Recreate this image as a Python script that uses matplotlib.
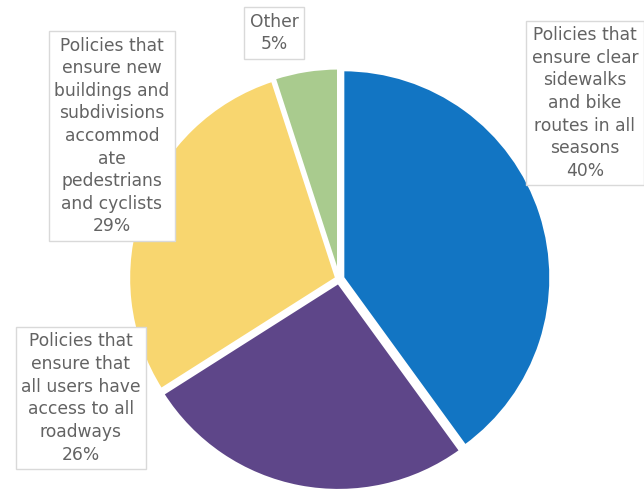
import matplotlib
matplotlib.use("Agg")
import matplotlib.pyplot as plt

# Survey shares for preferred active-transportation policies
categories = [
    "Policies that\nensure clear\nsidewalks\nand bike\nroutes in all\nseasons",
    "Policies that\nensure that\nall users have\naccess to all\nroadways",
    "Policies that\nensure new\nbuildings and\nsubdivisions\naccommod\nate\npedestrians\nand cyclists",
    "Other",
]
shares = [40, 26, 29, 5]
colors = ["#1275C3", "#5E4689", "#F8D66F", "#A9CB8E"]

W, H = 644, 492
fig = plt.figure(figsize=(W / 100, H / 100), dpi=100)
ax = fig.add_axes([0, 0, 1, 1])

# explode is given in data units (pixels here)
wedges, _ = ax.pie(
    shares,
    colors=colors,
    startangle=90,
    counterclock=False,
    center=(339, H - 279),
    radius=208,
    explode=[4, 3.5, 2.5, 3],
    wedgeprops=dict(edgecolor="white", linewidth=2.2),
    frame=True,
)
ax.set_xlim(0, W)
ax.set_ylim(0, H)
ax.set_aspect("equal")
ax.axis("off")

# Label boxes: (x centre, y centre in pixels from top)
label_pos = [(585, 103), (81, 398), (112, 136), (274, 33)]
box_style = dict(boxstyle="square,pad=0.32", facecolor="white",
                 edgecolor="#D9D9D9", linewidth=1.0)
for text, val, (x, y) in zip(categories, shares, label_pos):
    ax.text(x, H - y, f"{text}\n{val}%", ha="center", va="center",
            fontsize=12.3, family=["DejaVu Sans"], color="#636363",
            linespacing=1.33, bbox=box_style)

fig.savefig("out.png", dpi=100, facecolor="white")
